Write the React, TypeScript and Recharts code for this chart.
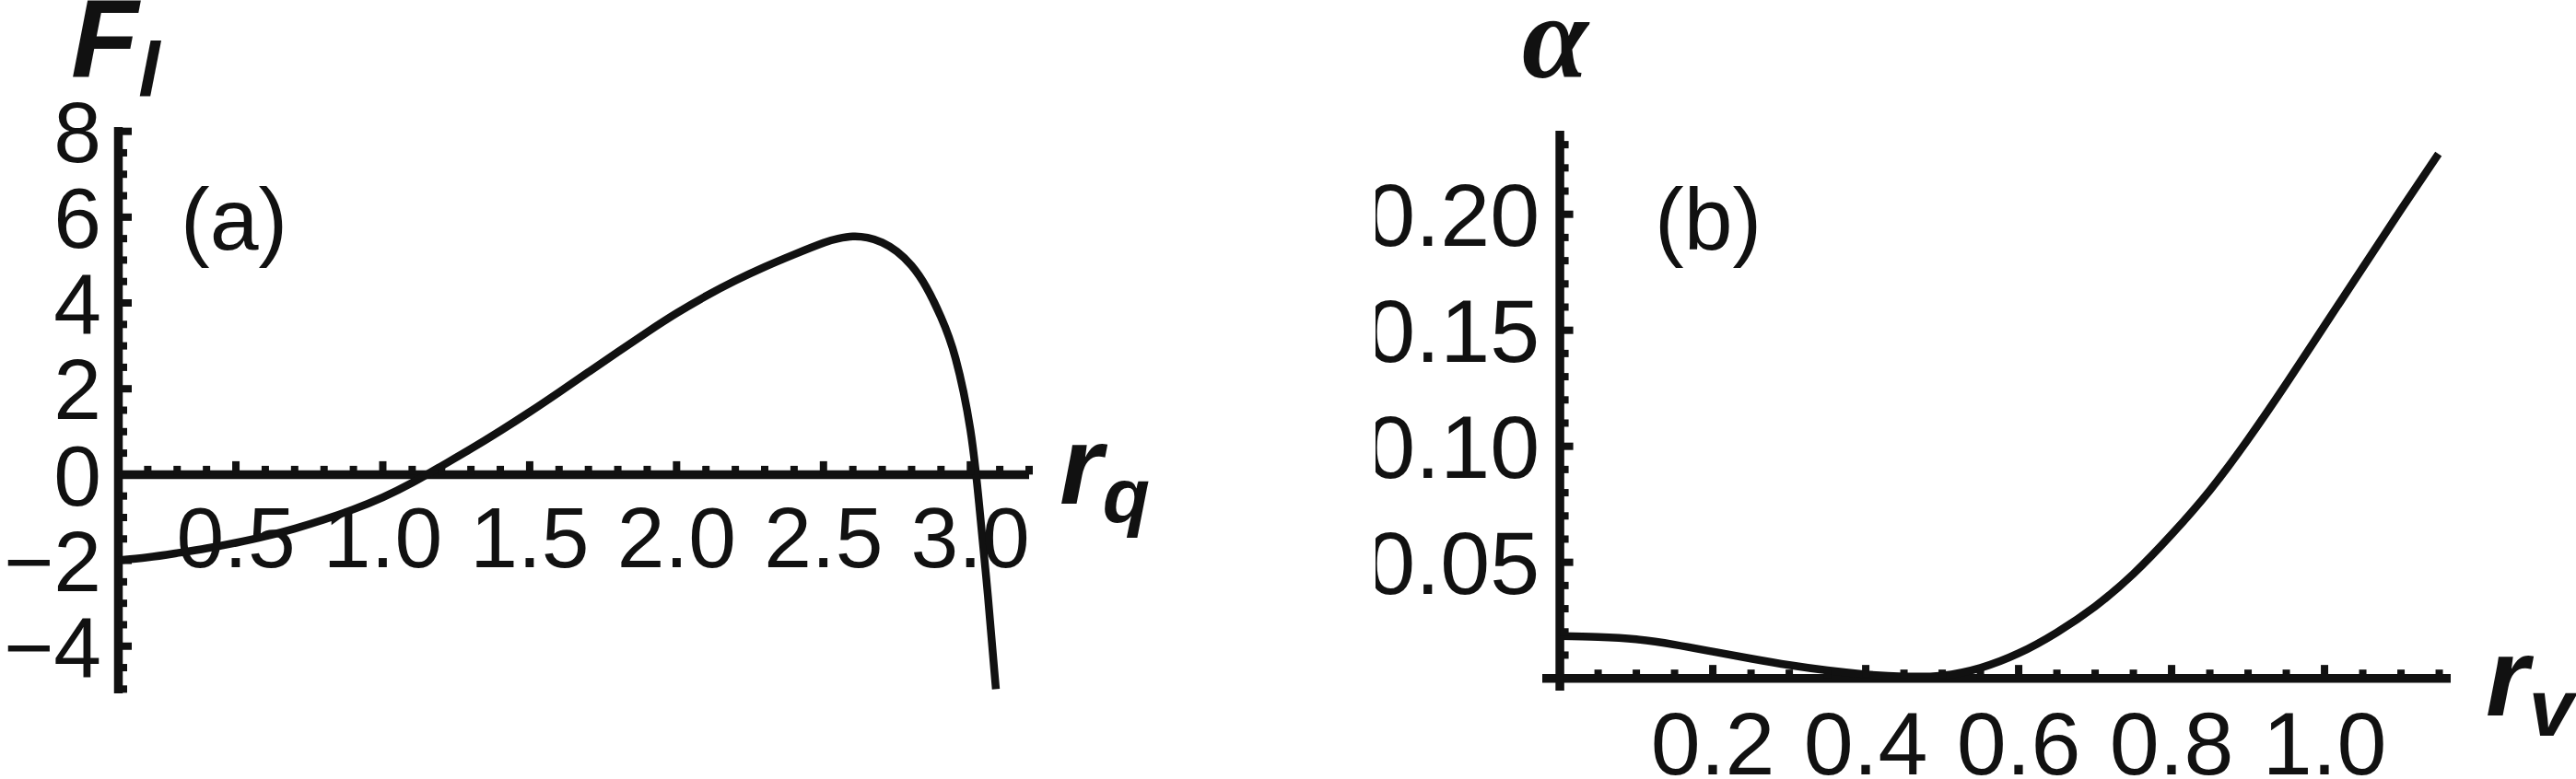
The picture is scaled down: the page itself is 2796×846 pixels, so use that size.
import React from "react";
import { LineChart, Line, XAxis, YAxis, ReferenceLine, ReferenceDot } from "recharts";

// Panel (a): F_l against r_q
const RQ = [0.1, 0.2, 0.3, 0.4, 0.5, 0.6, 0.7, 0.8, 0.9, 1.0, 1.1, 1.2, 1.3, 1.4, 1.5, 1.6, 1.7, 1.8, 1.9, 2.0, 2.1, 2.2, 2.3, 2.4, 2.5, 2.55, 2.6, 2.65, 2.7, 2.75, 2.8, 2.85, 2.9, 2.95, 3.0, 3.03, 3.06, 3.087];
const FL = [-2.0, -1.93, -1.83, -1.72, -1.59, -1.44, -1.26, -1.05, -0.81, -0.53, -0.19, 0.2, 0.6, 1.02, 1.46, 1.92, 2.39, 2.86, 3.32, 3.76, 4.16, 4.52, 4.84, 5.13, 5.4, 5.5, 5.55, 5.52, 5.41, 5.2, 4.87, 4.37, 3.67, 2.7, 1.05, -0.7, -2.85, -5.0];

// Panel (b): alpha against r_v
const RV = [0, 0.05, 0.1, 0.15, 0.2, 0.25, 0.3, 0.35, 0.4, 0.45, 0.5, 0.55, 0.6, 0.65, 0.7, 0.75, 0.8, 0.85, 0.9, 0.95, 1.0, 1.05, 1.1, 1.149];
const ALPHA = [0.0182, 0.0178, 0.0168, 0.0145, 0.0115, 0.0085, 0.0057, 0.0034, 0.0017, 0.0008, 0.0012, 0.0045, 0.0108, 0.0198, 0.031, 0.045, 0.062, 0.081, 0.103, 0.127, 0.152, 0.177, 0.202, 0.226];

// ticks
const A_X_MAJOR = [0.5, 1.0, 1.5, 2.0, 2.5, 3.0];
const A_X_MINOR = [0.2, 0.3, 0.4, 0.6, 0.7, 0.8, 0.9, 1.1, 1.2, 1.3, 1.4, 1.6, 1.7, 1.8, 1.9, 2.1, 2.2, 2.3, 2.4, 2.6, 2.7, 2.8, 2.9, 3.1, 3.2];
const A_Y_MAJOR = [-4, -2, 0, 2, 4, 6, 8];
const A_Y_MINOR = [-5, -4.5, -3.5, -3, -2.5, -1.5, -1, -0.5, 0.5, 1, 1.5, 2.5, 3, 3.5, 4.5, 5, 5.5, 6.5, 7, 7.5];
const B_X_MAJOR = [0.2, 0.4, 0.6, 0.8, 1.0];
const B_X_MINOR = [0.05, 0.1, 0.15, 0.25, 0.3, 0.35, 0.45, 0.5, 0.55, 0.65, 0.7, 0.75, 0.85, 0.9, 0.95, 1.05, 1.1, 1.15];
const B_Y_MAJOR = [0.05, 0.1, 0.15, 0.2];
const B_Y_MINOR = [0.01, 0.02, 0.03, 0.04, 0.06, 0.07, 0.08, 0.09, 0.11, 0.12, 0.13, 0.14, 0.16, 0.17, 0.18, 0.19, 0.21, 0.22, 0.23];

const INK = "#111";
const SANS = "'Liberation Sans', Arial, sans-serif";

const fmtA = (v: number) => (v < 0 ? "\u2212" + Math.abs(v) : String(v));

interface TickOpts {
  len: number;
  label?: string;
  fontSize?: number;
  gap?: number;
}

// inward tick (plus label) at the point the library placed
function xTick({ len, label, fontSize = 93, gap = 100 }: TickOpts) {
  return (p: any) => {
    const { cx, cy } = p;
    if (cx == null || cy == null) return <g />;
    return (
      <g>
        <line x1={cx} y1={cy} x2={cx} y2={cy - len} stroke={INK} strokeWidth={8} />
        {label && (
          <text x={cx} y={cy + gap} textAnchor="middle" fontFamily={SANS} fontSize={fontSize} fill={INK}>
            {label}
          </text>
        )}
      </g>
    );
  };
}

function yTick({ len, label, fontSize = 93, gap = 18 }: TickOpts) {
  return (p: any) => {
    const { cx, cy } = p;
    if (cx == null || cy == null) return <g />;
    return (
      <g>
        <line x1={cx} y1={cy} x2={cx + len} y2={cy} stroke={INK} strokeWidth={8} />
        {label && (
          <text x={cx - gap} y={cy + fontSize * 0.358} textAnchor="end" fontFamily={SANS} fontSize={fontSize} fill={INK}>
            {label}
          </text>
        )}
      </g>
    );
  };
}

interface PanelProps {
  xs: number[];
  ys: number[];
  xDomain: [number, number];
  yDomain: [number, number];
  yAxisAt: number;
  xMajor: number[];
  xMinor: number[];
  yMajor: number[];
  yMinor: number[];
  xFmt: (v: number) => string;
  yFmt: (v: number) => string;
  width: number;
  margin: { top: number; right: number; bottom: number; left: number };
  fontSize: number;
  xGap: number;
  yGap: number;
}

function Panel(p: PanelProps) {
  const data = p.xs.map((x, i) => ({ x, y: p.ys[i] }));
  return (
    <LineChart width={p.width} height={846} data={data} margin={p.margin}>
      <XAxis type="number" dataKey="x" domain={p.xDomain} hide />
      <YAxis type="number" dataKey="y" domain={p.yDomain} hide />
      <ReferenceLine y={0} stroke={INK} strokeWidth={9.5} />
      <ReferenceLine x={p.yAxisAt} stroke={INK} strokeWidth={9.5} />
      {p.xMinor.map((v) => (
        <ReferenceDot key={"xm" + v} x={v} y={0} r={0} shape={xTick({ len: 9.5 })} />
      ))}
      {p.xMajor.map((v) => (
        <ReferenceDot key={"xM" + v} x={v} y={0} r={0} shape={xTick({ len: 14.5, label: p.xFmt(v), fontSize: p.fontSize, gap: p.xGap })} />
      ))}
      {p.yMinor.map((v) => (
        <ReferenceDot key={"ym" + v} x={p.yAxisAt} y={v} r={0} shape={yTick({ len: 9.5 })} />
      ))}
      {p.yMajor.map((v) => (
        <ReferenceDot key={"yM" + v} x={p.yAxisAt} y={v} r={0} shape={yTick({ len: 14.5, label: p.yFmt(v), fontSize: p.fontSize, gap: p.yGap })} />
      ))}
      <Line type="natural" dataKey="y" stroke={INK} strokeWidth={8.5} dot={false} isAnimationActive={false} />
    </LineChart>
  );
}

export default function App() {
  const bold = { fontFamily: SANS, fontWeight: 700, fontStyle: "italic" as const, fill: INK };
  return (
    <div style={{ position: "absolute", left: 0, top: 0, width: 2796, height: 846, overflow: "hidden", background: "#fff" }}>
      <div style={{ position: "absolute", left: 0, top: 0 }}>
        <Panel
          xs={RQ}
          ys={FL}
          xDomain={[0.1, 3.2]}
          yDomain={[-5.1, 8.1]}
          yAxisAt={0.1}
          xMajor={A_X_MAJOR}
          xMinor={A_X_MINOR}
          yMajor={A_Y_MAJOR}
          yMinor={A_Y_MINOR}
          xFmt={(v) => v.toFixed(1)}
          yFmt={fmtA}
          width={1400}
          margin={{ top: 138, right: 283, bottom: 93, left: 128.5 }}
          fontSize={93}
          xGap={101}
          yGap={18.5}
        />
      </div>
      <div style={{ position: "absolute", left: 1493, top: 0 }}>
        <Panel
          xs={RV}
          ys={ALPHA}
          xDomain={[-0.023, 1.165]}
          yDomain={[-0.0053, 0.236]}
          yAxisAt={0}
          xMajor={B_X_MAJOR}
          xMinor={B_X_MINOR}
          yMajor={B_Y_MAJOR}
          yMinor={B_Y_MINOR}
          xFmt={(v) => v.toFixed(1)}
          yFmt={(v) => v.toFixed(2)}
          width={1303}
          margin={{ top: 142, right: 136, bottom: 96, left: 181 }}
          fontSize={97}
          xGap={104}
          yGap={22}
        />
      </div>
      <svg width={2796} height={846} style={{ position: "absolute", left: 0, top: 0, pointerEvents: "none" }}>
        <text x={77} y={83} fontSize={120} {...bold}>
          F<tspan fontSize={84} dy={22}>l</tspan>
        </text>
        <text x={196} y={271} fontSize={95} fontFamily={SANS} fill={INK}>(a)</text>
        <text x={1150} y={547} fontSize={120} {...bold}>
          r<tspan fontSize={84} dy={20}>q</tspan>
        </text>
        <text x={1652} y={84} fontSize={130} fontFamily="'Liberation Serif', 'DejaVu Serif', serif" fontWeight={700} fontStyle="italic" fill={INK}>
          α
        </text>
        <text x={1796} y={271} fontSize={95} fontFamily={SANS} fill={INK}>(b)</text>
        <text x={2698} y={777} fontSize={120} {...bold}>
          r<tspan fontSize={88} dy={22}>v</tspan>
        </text>
      </svg>
    </div>
  );
}
